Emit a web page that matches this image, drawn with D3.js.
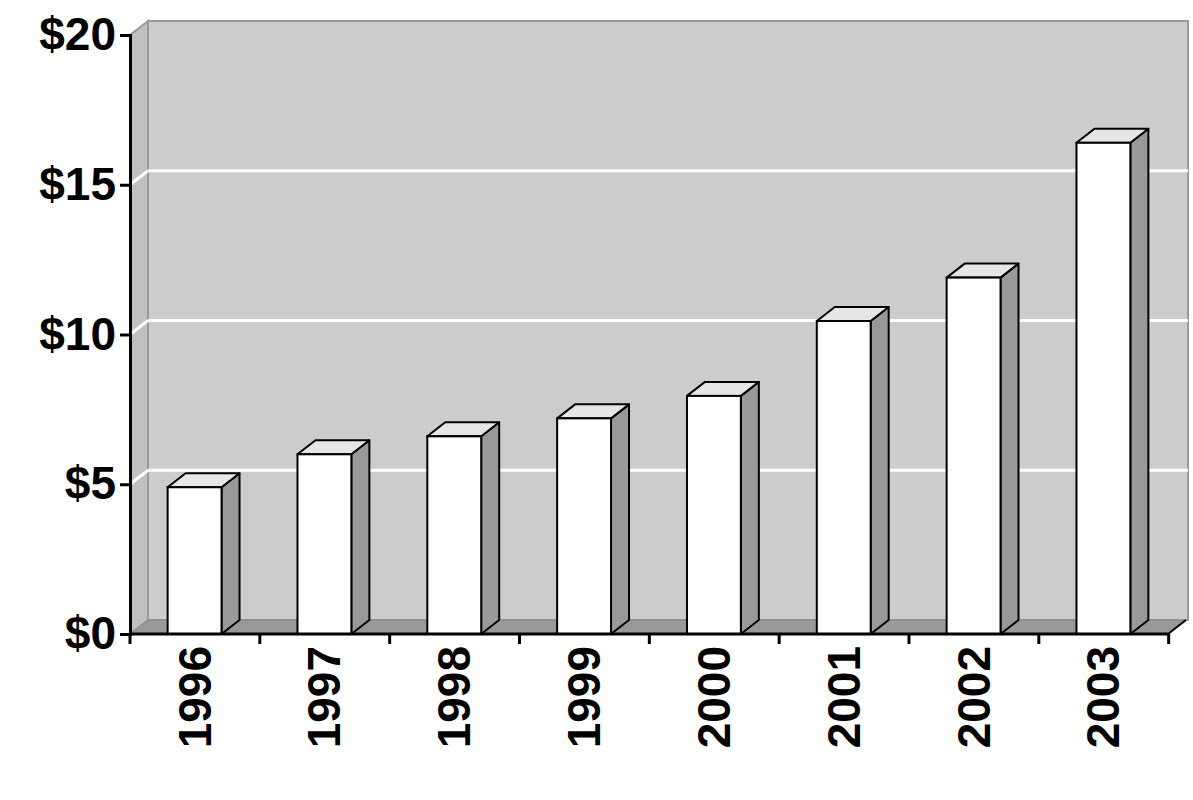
<!DOCTYPE html>
<html><head><meta charset="utf-8">
<script src="https://cdn.jsdelivr.net/npm/d3@7"></script>
<style>body{margin:0;background:#fff}</style>
</head><body><div id="chart"></div>
<script>
// Data
const years = ["1996","1997","1998","1999","2000","2001","2002","2003"];
const values = [4.9, 6.0, 6.6, 7.2, 7.95, 10.45, 11.9, 16.4];
const yTicks = [0, 5, 10, 15, 20];

const W = 1193, H = 800;
const mLeft = 130, mRight = 1168, mTop = 35, mBottom = 634;
const dx = 18, dy = -14; // depth offset

const svg = d3.select("#chart").append("svg").attr("width", W).attr("height", H)
  .style("font-family", "Liberation Sans, Arial, sans-serif");

const x = d3.scaleBand().domain(years).range([mLeft, mRight]).paddingInner(0.585).paddingOuter(0.29);
const y = d3.scaleLinear().domain([0, 20]).range([mBottom, mTop]);

// back wall
svg.append("rect").attr("x", mLeft + dx).attr("y", y(20) + dy)
  .attr("width", mRight - mLeft + 2).attr("height", mBottom - mTop)
  .attr("fill", "#cccccc").attr("stroke", "#999").attr("stroke-width", 2);
// side wall
svg.append("path")
  .attr("d", `M${mLeft},${y(20)} L${mLeft+dx},${y(20)+dy} L${mLeft+dx},${mBottom+dy} L${mLeft},${mBottom} Z`)
  .attr("fill", "#c0c0c0").attr("stroke", "#999").attr("stroke-width", 2);
// gridlines
const inner = yTicks.filter(d => d > 0 && d < 20);
svg.selectAll(".grid").data(inner).enter().append("line")
  .attr("x1", mLeft + dx).attr("x2", mRight + dx + 2)
  .attr("y1", d => y(d) + dy).attr("y2", d => y(d) + dy)
  .attr("stroke", "#fff").attr("stroke-width", 3);
svg.selectAll(".gside").data(inner).enter().append("line")
  .attr("x1", mLeft).attr("x2", mLeft + dx)
  .attr("y1", d => y(d)).attr("y2", d => y(d) + dy)
  .attr("stroke", "#fff").attr("stroke-width", 3);
// floor
svg.append("path")
  .attr("d", `M${mLeft},${mBottom} L${mLeft+dx},${mBottom+dy} L${mRight+dx},${mBottom+dy} L${mRight},${mBottom} Z`)
  .attr("fill", "#999").attr("stroke", "#888");

// bars
const bw = x.bandwidth();
const g = svg.append("g").selectAll("g").data(years.map((d, i) => [d, values[i]])).enter().append("g");
g.append("path") // side
  .attr("d", d => { const x1 = x(d[0]) + bw, yt = y(d[1]);
    return `M${x1},${yt} L${x1+dx},${yt+dy} L${x1+dx},${mBottom+dy} L${x1},${mBottom} Z`; })
  .attr("fill", "#999").attr("stroke", "#000").attr("stroke-width", 2).attr("stroke-linejoin", "round");
g.append("path") // top
  .attr("d", d => { const x0 = x(d[0]), yt = y(d[1]);
    return `M${x0},${yt} L${x0+dx},${yt+dy} L${x0+bw+dx},${yt+dy} L${x0+bw},${yt} Z`; })
  .attr("fill", "#e6e6e6").attr("stroke", "#000").attr("stroke-width", 2).attr("stroke-linejoin", "round");
g.append("rect") // front
  .attr("x", d => x(d[0])).attr("y", d => y(d[1]))
  .attr("width", bw).attr("height", d => mBottom - y(d[1]))
  .attr("fill", "#fff").attr("stroke", "#000").attr("stroke-width", 2);

// y axis
const ya = svg.append("g").attr("transform", `translate(${mLeft},0)`)
  .call(d3.axisLeft(y).tickValues(yTicks).tickFormat(d => "$" + d).tickSize(10).tickPadding(4));
ya.select(".domain").attr("stroke-width", 3);
ya.selectAll(".tick line").attr("stroke-width", 3);
ya.selectAll("text").style("font-size", "46px").style("font-weight", "bold").attr("fill", "#000");

// x axis
svg.append("line").attr("x1", mLeft).attr("x2", mRight).attr("y1", mBottom).attr("y2", mBottom)
  .attr("stroke", "#000").attr("stroke-width", 3);
svg.append("line").attr("x1", mRight).attr("x2", mRight + dx).attr("y1", mBottom).attr("y2", mBottom + dy)
  .attr("stroke", "#000").attr("stroke-width", 2);
const step = x.step();
svg.selectAll(".xt").data(d3.range(years.length + 1)).enter().append("line")
  .attr("x1", i => mLeft + i * step).attr("x2", i => mLeft + i * step)
  .attr("y1", mBottom).attr("y2", mBottom + 10).attr("stroke", "#000").attr("stroke-width", 3);
svg.selectAll(".xl").data(years).enter().append("text")
  .attr("transform", d => `translate(${x(d) + bw / 2 + 16},${mBottom + 12}) rotate(-90)`)
  .attr("text-anchor", "end")
  .style("font-size", "46px").style("font-weight", "bold")
  .text(d => d);
</script></body></html>
